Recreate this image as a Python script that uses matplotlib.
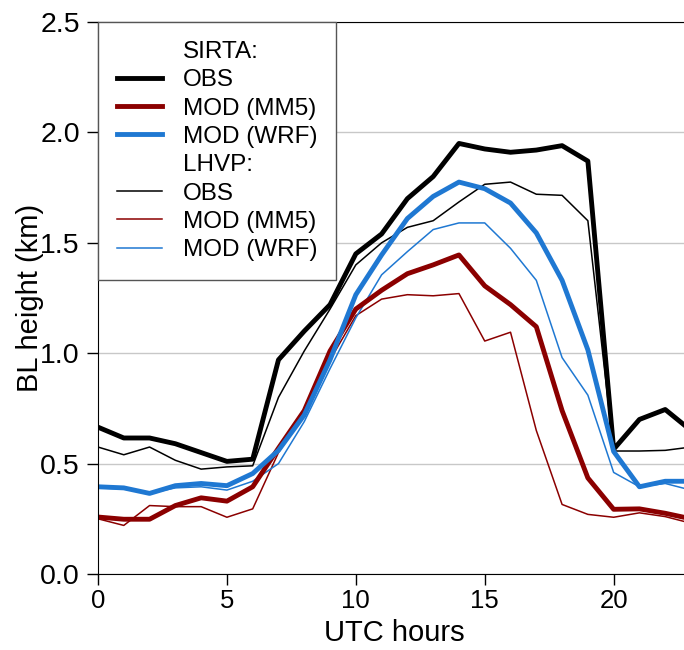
import numpy as np
import matplotlib
matplotlib.use('Agg')
import matplotlib.pyplot as plt
from matplotlib.lines import Line2D

plt.rcParams['font.family'] = ['Liberation Sans', 'DejaVu Sans']

hours = np.arange(24)

sirta_obs = [0.665, 0.616, 0.616, 0.59, 0.55, 0.51, 0.52, 0.97, 1.10, 1.22,
             1.45, 1.54, 1.70, 1.80, 1.95, 1.925, 1.91, 1.92, 1.94, 1.87,
             0.565, 0.70, 0.745, 0.65]
sirta_mm5 = [0.258, 0.248, 0.248, 0.31, 0.345, 0.33, 0.395, 0.57, 0.74, 1.01,
             1.20, 1.285, 1.36, 1.40, 1.445, 1.305, 1.22, 1.12, 0.74, 0.435,
             0.293, 0.295, 0.275, 0.25]
sirta_wrf = [0.395, 0.39, 0.365, 0.40, 0.41, 0.40, 0.455, 0.56, 0.72, 0.97,
             1.265, 1.445, 1.61, 1.71, 1.775, 1.745, 1.68, 1.545, 1.33, 1.015,
             0.555, 0.395, 0.42, 0.42]
lhvp_obs = [0.575, 0.54, 0.575, 0.515, 0.475, 0.485, 0.49, 0.80, 1.01, 1.20,
            1.40, 1.50, 1.57, 1.60, 1.685, 1.765, 1.775, 1.72, 1.715, 1.60,
            0.557, 0.557, 0.56, 0.575]
lhvp_mm5 = [0.25, 0.22, 0.31, 0.305, 0.305, 0.257, 0.295, 0.55, 0.73, 0.97,
            1.17, 1.245, 1.265, 1.26, 1.27, 1.055, 1.095, 0.65, 0.315, 0.27,
            0.257, 0.277, 0.26, 0.23]
lhvp_wrf = [0.39, 0.385, 0.365, 0.39, 0.395, 0.38, 0.42, 0.50, 0.69, 0.93,
            1.16, 1.355, 1.46, 1.56, 1.59, 1.59, 1.475, 1.33, 0.98, 0.81,
            0.46, 0.395, 0.41, 0.38]

RED = '#8b0000'
BLUE = '#1f78d2'
THICK = 3.5
THIN = 1.1

fig = plt.figure(figsize=(6.84, 6.5), dpi=100)
# right edge of axes falls outside the figure, like the cropped original
ax = fig.add_axes([98 / 684, 76 / 650, 593 / 684, 552 / 650])

ax.plot(hours, lhvp_obs, color='black', lw=THIN)
ax.plot(hours, lhvp_mm5, color=RED, lw=THIN)
ax.plot(hours, lhvp_wrf, color=BLUE, lw=THIN)
ax.plot(hours, sirta_obs, color='black', lw=THICK)
ax.plot(hours, sirta_mm5, color=RED, lw=THICK)
ax.plot(hours, sirta_wrf, color=BLUE, lw=THICK)

ax.set_xlim(0, 23)
ax.set_ylim(0, 2.5)
ax.set_xticks([0, 5, 10, 15, 20])
ax.set_yticks([0.0, 0.5, 1.0, 1.5, 2.0, 2.5])
ax.set_yticklabels(['0.0', '0.5', '1.0', '1.5', '2.0', '2.5'])
ax.yaxis.grid(True, color='#c8c8c8', lw=1.0)
ax.set_axisbelow(True)
ax.tick_params(axis='y', labelsize=20.5, length=8, width=1, direction='out', pad=5)
ax.tick_params(axis='x', labelsize=18.5, length=8, width=1, direction='out', pad=3)

ax.set_xlabel('UTC hours', fontsize=21)
ax.set_ylabel('BL height (km)', fontsize=21)
ax.yaxis.set_label_coords(-0.091, 0.5)
ax.xaxis.set_label_coords(0.5, -0.082)

blank = Line2D([], [], color='none')
handles = [blank,
           Line2D([], [], color='black', lw=THICK),
           Line2D([], [], color=RED, lw=THICK),
           Line2D([], [], color=BLUE, lw=THICK),
           blank,
           Line2D([], [], color='black', lw=THIN),
           Line2D([], [], color=RED, lw=THIN),
           Line2D([], [], color=BLUE, lw=THIN)]
labels = ['SIRTA:', 'OBS', 'MOD (MM5)', 'MOD (WRF)',
          'LHVP:', 'OBS', 'MOD (MM5)', 'MOD (WRF)']
leg = ax.legend(handles, labels, loc='upper left', fontsize=17.5,
                borderaxespad=0, fancybox=False, framealpha=1,
                handlelength=1.85, handletextpad=0.85, labelspacing=0.26,
                borderpad=0.78)
leg.get_frame().set_edgecolor('#555555')
leg.get_frame().set_linewidth(1.0)

fig.savefig('out.png', dpi=100)
